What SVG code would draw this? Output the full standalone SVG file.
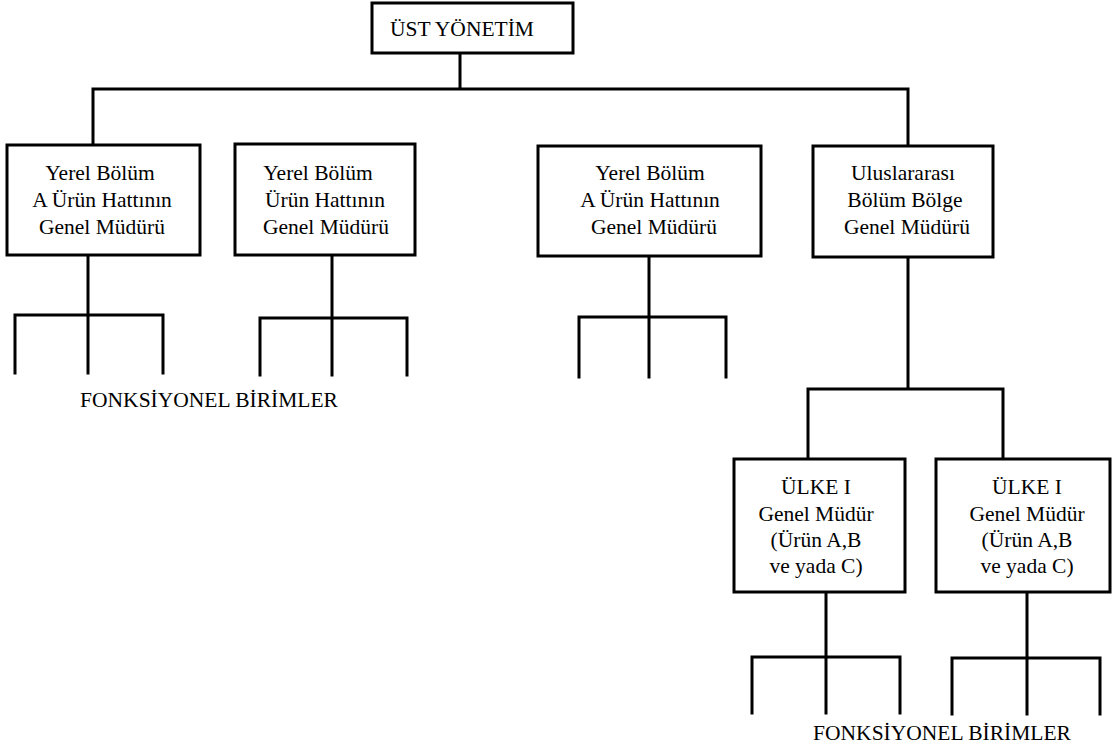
<svg xmlns="http://www.w3.org/2000/svg" width="1114" height="754" viewBox="0 0 1114 754">
  <style>
    .box { fill: #ffffff; stroke: #000000; stroke-width: 3; }
    .ln { fill: none; stroke: #000000; stroke-width: 3; stroke-linecap: square; }
    text { font-family: "Liberation Serif", "Times New Roman", serif; font-size: 21.5px; fill: #000000; text-anchor: middle; }
  </style>
  <rect width="1114" height="754" fill="#ffffff"/>

  <!-- connectors -->
  <g id="connectors">
    <!-- top level -->
    <path class="ln" d="M460 53 V89 M93 89 H908 M93 89 V145 M908 89 V146"/>
    <!-- functional-unit forks, first row -->
    <path class="ln" d="M88 255 V315 M15 315 H163 M15 315 V373 M88 315 V373 M163 315 V373"/>
    <path class="ln" d="M332 255 V318 M260 318 H407 M260 318 V375 M332 318 V375 M407 318 V375"/>
    <path class="ln" d="M649 256 V317 M579 317 H726 M579 317 V377 M649 317 V377 M726 317 V377"/>
    <!-- international division to countries -->
    <path class="ln" d="M908 257 V389 M808 389 H1003 M808 389 V459 M1003 389 V459"/>
    <!-- functional-unit forks, country level -->
    <path class="ln" d="M826 592 V657 M752 657 H900 M752 657 V713 M826 657 V713 M900 657 V713"/>
    <path class="ln" d="M1027 592 V658 M952 658 H1100 M952 658 V714 M1027 658 V714 M1100 658 V714"/>
  </g>

  <g id="top-management">
    <rect class="box" x="372" y="3" width="201" height="50"/>
    <text x="462" y="36">ÜST YÖNETİM</text>
  </g>

  <g id="local-division-a-1">
    <rect class="box" x="7" y="145" width="193" height="110"/>
    <text x="100" y="180">Yerel Bölüm</text>
    <text x="102" y="207">A Ürün Hattının</text>
    <text x="102" y="234">Genel Müdürü</text>
  </g>

  <g id="local-division-2">
    <rect class="box" x="235" y="144" width="180" height="111"/>
    <text x="318" y="180">Yerel Bölüm</text>
    <text x="325" y="207">Ürün Hattının</text>
    <text x="326" y="234">Genel Müdürü</text>
  </g>

  <g id="local-division-a-3">
    <rect class="box" x="538" y="146" width="223" height="110"/>
    <text x="650" y="180">Yerel Bölüm</text>
    <text x="650" y="207">A Ürün Hattının</text>
    <text x="654" y="234">Genel Müdürü</text>
  </g>

  <g id="international-division">
    <rect class="box" x="813" y="146" width="180" height="111"/>
    <text x="903" y="180">Uluslararası</text>
    <text x="905" y="207">Bölüm Bölge</text>
    <text x="907" y="234">Genel Müdürü</text>
  </g>

  <g id="functional-units-1">
    <text x="209" y="407">FONKSİYONEL BİRİMLER</text>
  </g>

  <g id="country-1">
    <rect class="box" x="734" y="459" width="171" height="133"/>
    <text x="816" y="494">ÜLKE I</text>
    <text x="816" y="521">Genel Müdür</text>
    <text x="816" y="547">(Ürün A,B</text>
    <text x="816" y="573">ve yada C)</text>
  </g>

  <g id="country-2">
    <rect class="box" x="936" y="459" width="174" height="133"/>
    <text x="1027" y="494">ÜLKE I</text>
    <text x="1027" y="521">Genel Müdür</text>
    <text x="1027" y="547">(Ürün A,B</text>
    <text x="1027" y="573">ve yada C)</text>
  </g>

  <g id="functional-units-2">
    <text x="942" y="740">FONKSİYONEL BİRİMLER</text>
  </g>
</svg>
